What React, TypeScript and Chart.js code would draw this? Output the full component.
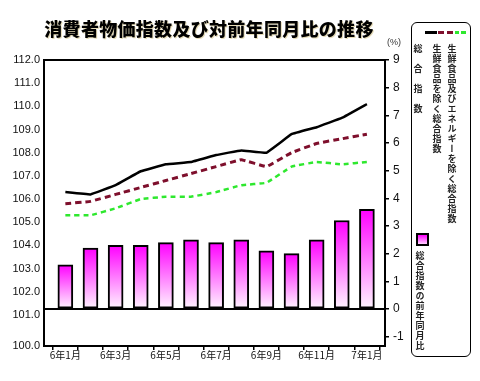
import React, { useEffect, useRef } from 'react';
import { Chart, registerables } from 'chart.js';
Chart.register(...registerables);

const months = ['6年1月', '6年2月', '6年3月', '6年4月', '6年5月', '6年6月', '6年7月', '6年8月', '6年9月', '6年10月', '6年11月', '6年12月', '7年1月'];
const cpiTotal = [106.3, 106.2, 106.6, 107.2, 107.5, 107.6, 107.9, 108.1, 108.0, 108.8, 109.1, 109.5, 110.1];
const cpiExFresh = [105.8, 105.9, 106.2, 106.5, 106.8, 107.1, 107.4, 107.7, 107.4, 108.0, 108.4, 108.6, 108.8];
const cpiExFreshEnergy = [105.3, 105.3, 105.6, 106.0, 106.1, 106.1, 106.3, 106.6, 106.7, 107.4, 107.6, 107.5, 107.6];
const yoyTotal = [1.6, 2.2, 2.3, 2.3, 2.4, 2.5, 2.4, 2.5, 2.1, 2.0, 2.5, 3.2, 3.6];
const leftTicks = [100, 101, 102, 103, 104, 105, 106, 107, 108, 109, 110, 111, 112];
const rightTicks = [-1, 0, 1, 2, 3, 4, 5, 6, 7, 8, 9];

const titleText = '消費者物価指数及び対前年同月比の推移';
const lineLegend = ['総合指数', '生鮮食品を除く総合指数', '生鮮食品及びエネルギーを除く総合指数'];
const barLegend = '総合指数の前年同月比';
const unitText = '(%)';

const LEFT_MIN = 99.66;
const LEFT_MAX = 112;
const RIGHT_MIN = -1.337;
const RIGHT_MAX = 9;
const X_MIN = -0.85;
const X_MAX = 12.72;

const JP = '"Noto Sans CJK JP", "Noto Sans", sans-serif';
const NUM = '"Liberation Sans", Arial, sans-serif';

const framePlugin = {
  id: 'frame',
  afterDatasetsDraw(chart: any) {
    const { ctx, chartArea: a, scales } = chart;
    const y0 = scales.y2.getPixelForValue(0);
    ctx.save();
    ctx.strokeStyle = '#000';
    ctx.lineWidth = 2;
    ctx.beginPath();
    ctx.moveTo(a.left, y0);
    ctx.lineTo(a.right, y0);
    ctx.stroke();
    ctx.strokeRect(a.left, a.top, a.right - a.left, a.bottom - a.top);
    ctx.restore();
  },
};

const pts = (arr: number[]) => arr.map((v, i) => ({ x: i, y: v }));

export default function App() {
  const ref = useRef<HTMLCanvasElement>(null);
  useEffect(() => {
    if (!ref.current) return;
    const chart = new Chart(ref.current, {
      type: 'bar',
      data: {
        datasets: [
          {
            type: 'line',
            label: lineLegend[0],
            data: pts(cpiTotal),
            yAxisID: 'y',
            borderColor: '#000000',
            borderWidth: 2.5,
            pointRadius: 0,
            tension: 0.05,
            fill: false,
            order: 1,
          } as any,
          {
            type: 'line',
            label: lineLegend[1],
            data: pts(cpiExFresh),
            yAxisID: 'y',
            borderColor: '#7e0f2c',
            borderWidth: 3,
            borderDash: [6, 4],
            pointRadius: 0,
            tension: 0.05,
            fill: false,
            order: 1,
          } as any,
          {
            type: 'line',
            label: lineLegend[2],
            data: pts(cpiExFreshEnergy),
            yAxisID: 'y',
            borderColor: '#2ee82e',
            borderWidth: 2.5,
            borderDash: [5, 4],
            pointRadius: 0,
            tension: 0.05,
            fill: false,
            order: 1,
          } as any,
          {
            type: 'bar',
            label: barLegend,
            data: pts(yoyTotal),
            yAxisID: 'y2',
            barThickness: 15,
            borderColor: '#000',
            borderWidth: 2,
            borderSkipped: false,
            backgroundColor: (c: any) => {
              const chart = c.chart;
              const s = chart.scales && chart.scales.y2;
              const raw = c.raw;
              if (!s || raw == null) return '#ff00ff';
              const v = typeof raw === 'object' ? raw.y : raw;
              const top = s.getPixelForValue(v);
              const bot = s.getPixelForValue(0);
              if (!isFinite(top) || !isFinite(bot)) return '#ff00ff';
              const g = chart.ctx.createLinearGradient(0, top, 0, bot);
              g.addColorStop(0, '#ff00ff');
              g.addColorStop(1, '#fff6ff');
              return g;
            },
            order: 3,
          } as any,
        ],
      },
      options: {
        animation: false,
        responsive: false,
        maintainAspectRatio: false,
        layout: { padding: { left: 0, right: 0, top: 60, bottom: 0 } },
        plugins: { legend: { display: false }, tooltip: { enabled: false }, title: { display: false } },
        scales: {
          x: {
            type: 'linear',
            min: X_MIN,
            max: X_MAX,
            offset: false,
            afterBuildTicks: (s: any) => {
              s.ticks = months.map((_, i) => ({ value: i }));
            },
            afterFit: (s: any) => {
              s.height = 35;
            },
            ticks: {
              autoSkip: false,
              maxRotation: 0,
              minRotation: 0,
              padding: -1,
              color: '#111',
              font: { family: JP, size: 10 },
              callback: (v: any, i: number) => (i % 2 === 0 ? months[i] : ''),
            },
            grid: { display: true, drawOnChartArea: false, drawTicks: true, tickLength: 4, color: '#000', lineWidth: 1.5 },
            border: { display: false },
          },
          y: {
            type: 'linear',
            position: 'left',
            min: LEFT_MIN,
            max: LEFT_MAX,
            afterBuildTicks: (s: any) => {
              s.ticks = leftTicks.map((v) => ({ value: v === 100 ? LEFT_MIN : v }));
            },
            afterFit: (s: any) => {
              s.width = 44;
            },
            ticks: {
              padding: 4,
              color: '#111',
              font: { family: NUM, size: 11 },
              callback: (v: any, i: number) => leftTicks[i].toFixed(1),
            },
            grid: { display: false, drawTicks: false },
            border: { display: false },
          },
          y2: {
            type: 'linear',
            position: 'right',
            min: RIGHT_MIN,
            max: RIGHT_MAX,
            afterBuildTicks: (s: any) => {
              s.ticks = rightTicks.map((v) => ({ value: v }));
            },
            afterFit: (s: any) => {
              s.width = 95;
            },
            ticks: {
              padding: 4,
              color: '#111',
              font: { family: NUM, size: 12 },
              callback: (v: any, i: number) => String(rightTicks[i]),
            },
            grid: { display: true, drawOnChartArea: false, drawTicks: true, tickLength: 4, color: '#000', lineWidth: 1.5 },
            border: { display: false },
          },
        },
      } as any,
      plugins: [framePlugin],
    });
    return () => chart.destroy();
  }, []);

  const colStyle = (cx: number, top: number, spacing: number): React.CSSProperties => ({
    position: 'absolute',
    left: cx - 4.5,
    top: top - 4.5,
    width: 9,
    writingMode: 'vertical-rl' as any,
    fontFamily: JP,
    fontWeight: 'bold',
    fontSize: 9,
    lineHeight: '9px',
    letterSpacing: spacing - 9,
    color: '#222',
    whiteSpace: 'nowrap',
  });

  return (
    <div style={{ position: 'fixed', left: 0, top: 0, width: 480, height: 381, background: '#fff', overflow: 'hidden' }}>
      <canvas ref={ref} width={480} height={381} style={{ position: 'absolute', left: 0, top: 0, width: 480, height: 381 }} />
      <div
        style={{
          position: 'absolute',
          left: 43,
          top: 17,
          width: 332,
          textAlign: 'center',
          fontFamily: JP,
          fontWeight: 900,
          fontSize: 18,
          lineHeight: '22px',
          letterSpacing: 0.3,
          color: '#000',
          whiteSpace: 'nowrap',
          textShadow: '1px 1px 0 #e6dcb8',
        }}
      >
        {titleText}
      </div>
      <div style={{ position: 'absolute', left: 387, top: 37, fontFamily: NUM, fontSize: 9, lineHeight: '10px', color: '#333' }}>{unitText}</div>
      <div
        style={{
          position: 'absolute',
          left: 411,
          top: 22,
          width: 60,
          height: 335,
          border: '1px solid #000',
          borderRadius: 6,
          boxSizing: 'border-box',
        }}
      />
      <div style={{ position: 'absolute', left: 425, top: 31, width: 12, height: 3, background: '#000' }} />
      <div style={{ position: 'absolute', left: 438, top: 31, width: 6, height: 3, background: '#7e0f2c' }} />
      <div style={{ position: 'absolute', left: 447, top: 31, width: 6, height: 3, background: '#7e0f2c' }} />
      <div style={{ position: 'absolute', left: 455, top: 31, width: 4, height: 3, background: '#2ee82e' }} />
      <div style={{ position: 'absolute', left: 461, top: 31, width: 5, height: 3, background: '#2ee82e' }} />
      <div style={colStyle(418, 48, 20)}>{lineLegend[0]}</div>
      <div style={colStyle(437, 48, 10)}>{lineLegend[1]}</div>
      <div style={colStyle(452, 48, 10)}>{lineLegend[2]}</div>
      <div
        style={{
          position: 'absolute',
          left: 416,
          top: 233,
          width: 13,
          height: 13,
          border: '2px solid #000',
          boxSizing: 'border-box',
          background: 'linear-gradient(#ff00ff, #ffd0ff)',
        }}
      />
      <div style={colStyle(420, 255, 10)}>{barLegend}</div>
    </div>
  );
}
